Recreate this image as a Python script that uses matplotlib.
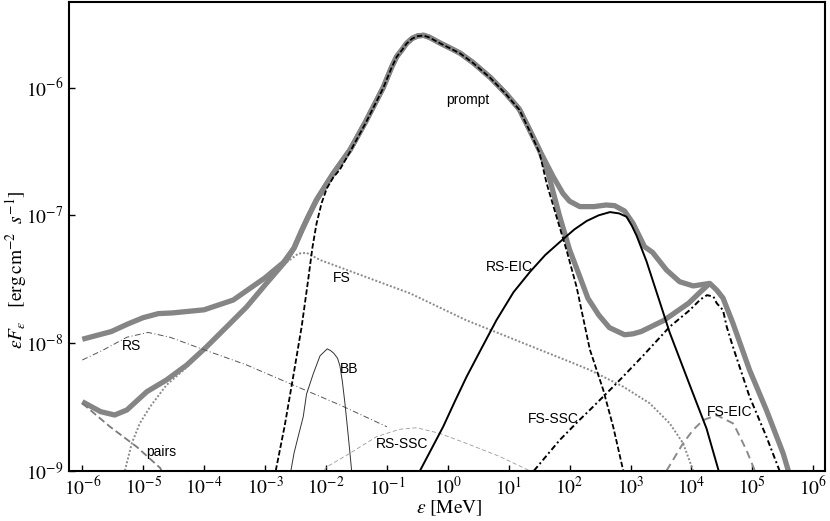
import matplotlib
matplotlib.use("Agg")
import matplotlib.pyplot as plt

plt.rcParams['mathtext.fontset'] = 'stix'
plt.rcParams['font.family'] = ['Liberation Serif', 'DejaVu Serif']

# ---------------- data ----------------
total_a_x = [1e-6, 3e-6, 5.6e-6, 1e-5, 1.78e-5, 3e-5, 1e-4, 3e-4, 1e-3, 2e-3, 3e-3, 4e-3, 5e-3,
             7e-3, 1.3e-2, 2.5e-2, 4.5e-2, 8.7e-2, 0.12, 0.145, 0.18, 0.21, 0.26, 0.32, 0.40,
             0.5, 0.74, 1.1, 1.6, 2.6, 5, 9, 15, 22, 32, 54, 78, 100, 147, 250, 400, 550, 800,
             1100, 1700, 2300, 3900, 6400, 1.07e4, 2e4, 2.6e4, 3.3e4, 4.8e4, 9e4, 1.7e5,
             3.2e5, 3.9e5]
total_a_y = [1.07e-8, 1.23e-8, 1.41e-8, 1.58e-8, 1.70e-8, 1.72e-8, 1.82e-8, 2.17e-8, 3.24e-8,
             4.27e-8, 5.56e-8, 7.6e-8, 9.55e-8, 1.32e-7, 2.11e-7, 3.27e-7, 5.43e-7, 1.0e-6,
             1.45e-6, 1.75e-6, 2.0e-6, 2.22e-6, 2.43e-6, 2.54e-6, 2.57e-6, 2.48e-6, 2.24e-6,
             2.04e-6, 1.86e-6, 1.57e-6, 1.20e-6, 9.0e-7, 6.76e-7, 4.68e-7, 3.24e-7, 2.0e-7,
             1.48e-7, 1.29e-7, 1.17e-7, 1.17e-7, 1.205e-7, 1.19e-7, 1.08e-7, 8.65e-8, 5.68e-8,
             5.13e-8, 3.73e-8, 3.02e-8, 2.8e-8, 2.93e-8, 2.6e-8, 2.25e-8, 1.43e-8, 6.15e-9,
             2.99e-9, 1.37e-9, 1.0e-9]

total_b_x = [1e-6, 2e-6, 3.4e-6, 5.4e-6, 1.15e-5, 2.4e-5, 5.2e-5, 1.1e-4, 2.35e-4, 5e-4, 1.06e-3,
             2.25e-3, 3e-3, 4e-3, 5e-3, 7e-3, 1.3e-2, 2.5e-2, 4.5e-2, 8.7e-2, 0.12, 0.145, 0.18,
             0.21, 0.26, 0.32, 0.40, 0.5, 0.74, 1.1, 1.6, 2.6, 5, 9, 15, 22, 32, 45, 69, 100,
             147, 200, 300, 450, 800, 1100, 1500, 3500, 9000, 1.4e4, 2e4]
total_b_y = [3.47e-9, 2.90e-9, 2.73e-9, 2.99e-9, 4.16e-9, 5.13e-9, 6.73e-9, 9.35e-9, 1.34e-8,
             1.92e-8, 2.94e-8, 4.47e-8, 5.56e-8, 7.6e-8, 9.55e-8, 1.32e-7, 2.11e-7, 3.27e-7,
             5.43e-7, 1.0e-6, 1.45e-6, 1.75e-6, 2.0e-6, 2.22e-6, 2.43e-6, 2.54e-6, 2.57e-6,
             2.48e-6, 2.24e-6, 2.04e-6, 1.86e-6, 1.57e-6, 1.20e-6, 9.0e-7, 6.76e-7, 4.68e-7,
             3.24e-7, 2.09e-7, 9.75e-8, 5.37e-8, 3.31e-8, 2.24e-8, 1.66e-8, 1.32e-8, 1.16e-8,
             1.18e-8, 1.23e-8, 1.50e-8, 2.05e-8, 2.51e-8, 2.93e-8]

prompt_x = [1.5e-3, 2.1e-3, 2.9e-3, 4e-3, 5.1e-3, 6e-3, 7e-3, 8.5e-3, 1.03e-2, 1.32e-2, 1.7e-2,
            2.5e-2, 4.5e-2, 8.7e-2, 0.12, 0.145, 0.18, 0.21, 0.26, 0.32, 0.40, 0.5, 0.74, 1.1,
            1.6, 2.6, 5, 9, 15, 22, 32, 42, 61, 89, 130, 215, 357, 520, 760]
prompt_y = [1e-9, 2.24e-9, 5.45e-9, 1.35e-8, 3.11e-8, 5.6e-8, 8.6e-8, 1.25e-7, 1.62e-7, 1.98e-7,
            2.29e-7, 3.16e-7, 5.3e-7, 9.9e-7, 1.44e-6, 1.74e-6, 1.99e-6, 2.21e-6, 2.42e-6,
            2.53e-6, 2.56e-6, 2.47e-6, 2.23e-6, 2.03e-6, 1.85e-6, 1.56e-6, 1.19e-6, 8.9e-7,
            6.7e-7, 4.6e-7, 3.1e-7, 1.78e-7, 9.75e-8, 5.35e-8, 2.76e-8, 8.9e-9, 4.29e-9,
            2.21e-9, 1e-9]

fs_x = [5e-6, 6.5e-6, 8.8e-6, 1.3e-5, 2.4e-5, 5.2e-5, 1.1e-4, 2.35e-4, 5e-4, 1.06e-3, 2.25e-3,
        3.5e-3, 4.8e-3, 8e-3, 0.24, 2, 100, 215, 760, 2070, 4400, 7300, 1.07e4]
fs_y = [1e-9, 1.64e-9, 2.35e-9, 3.17e-9, 4.68e-9, 6.46e-9, 9.12e-9, 1.32e-8, 1.88e-8, 2.85e-8,
        4.27e-8, 5.01e-8, 5.09e-8, 4.47e-8, 2.45e-8, 1.51e-8, 7.14e-9, 6.15e-9, 4.55e-9,
        3.37e-9, 2.35e-9, 1.64e-9, 1e-9]

rs_x = [1e-6, 2.2e-6, 5.4e-6, 1.2e-5, 2.75e-5, 8.5e-5, 5e-4, 2.9e-3, 1.7e-2, 0.1]
rs_y = [7.36e-9, 8.81e-9, 1.11e-8, 1.21e-8, 1.11e-8, 9.1e-9, 6.73e-9, 4.69e-9, 3.27e-9, 2.21e-9]

pairs_x = [1e-6, 2.85e-6, 7.8e-6, 1.9e-5, 2e-5]
pairs_y = [3.37e-9, 2.21e-9, 1.54e-9, 1.05e-9, 1e-9]

bb_x = [2.66e-3, 3.0e-3, 3.55e-3, 4.24e-3, 4.8e-3, 6.2e-3, 8e-3, 1.05e-2, 1.2e-2, 1.35e-2,
        1.55e-2, 1.7e-2, 1.86e-2, 2.05e-2, 2.25e-2, 2.48e-2, 2.64e-2]
bb_y = [1e-9, 1.38e-9, 1.9e-9, 2.65e-9, 3.98e-9, 5.75e-9, 7.94e-9, 9.0e-9, 8.7e-9, 8.3e-9,
        7.6e-9, 6.6e-9, 5.0e-9, 3.37e-9, 2.19e-9, 1.37e-9, 1e-9]

rs_ssc_x = [9.3e-3, 1.03e-2, 2.48e-2, 6.8e-2, 0.162, 0.31, 0.74, 2.0, 7.2, 22]
rs_ssc_y = [1e-9, 1.07e-9, 1.37e-9, 1.85e-9, 2.11e-9, 2.17e-9, 1.96e-9, 1.64e-9, 1.29e-9, 1e-9]

rs_eic_x = [0.35, 0.84, 1.3, 2.04, 3.5, 6.3, 12, 22.3, 40, 78, 120, 190, 300, 460, 650, 860,
            1050, 1260, 1830, 3030, 4420, 9400, 1.77e4, 2.8e4]
rs_eic_y = [1e-9, 2.21e-9, 3.47e-9, 5.45e-9, 8.9e-9, 1.51e-8, 2.5e-8, 3.6e-8, 4.9e-8,
            6.5e-8, 7.76e-8, 9.02e-8, 1.0e-7, 1.06e-7, 1.035e-7, 9.75e-8, 8.3e-8, 6.92e-8,
            4.37e-8, 2.09e-8, 1.2e-8, 4.68e-9, 2.14e-9, 1e-9]

fs_ssc_x = [26, 69, 147, 215, 590, 1600, 4400, 9400, 1.4e4, 1.8e4, 2.3e4, 2.6e4, 3.3e4, 3.8e4,
            4.8e4, 9e4, 1.7e5, 2.8e5]
fs_ssc_y = [1e-9, 1.74e-9, 2.51e-9, 2.99e-9, 4.83e-9, 7.94e-9, 1.34e-8, 1.81e-8, 2.19e-8,
            2.37e-8, 2.31e-8, 2.05e-8, 1.81e-8, 1.34e-8, 9.35e-9, 3.8e-9, 1.85e-9, 1e-9]

fs_eic_x = [3900, 7300, 1.07e4, 1.56e4, 2.6e4, 4.8e4, 5.5e4, 8e4, 1.1e5]
fs_eic_y = [1e-9, 1.64e-9, 2.09e-9, 2.49e-9, 2.72e-9, 2.35e-9, 2.09e-9, 1.45e-9, 1e-9]

labels = ["prompt", "FS", "RS", "BB", "pairs", "RS-SSC", "RS-EIC", "FS-SSC", "FS-EIC"]
label_x = [2.14, 1.8e-2, 6.5e-6, 2.4e-2, 2.0e-5, 0.179, 10.1, 55, 4.27e4]
label_y = [8.0e-7, 3.24e-8, 9.5e-9, 6.3e-9, 1.39e-9, 1.61e-9, 3.95e-8, 2.53e-9, 2.86e-9]

xticks = [1e-6, 1e-5, 1e-4, 1e-3, 1e-2, 1e-1, 1e0, 1e1, 1e2, 1e3, 1e4, 1e5, 1e6]
xtick_labels = [r'$10^{-6}$', r'$10^{-5}$', r'$10^{-4}$', r'$10^{-3}$', r'$10^{-2}$',
                r'$10^{-1}$', r'$10^{0}$', r'$10^{1}$', r'$10^{2}$', r'$10^{3}$',
                r'$10^{4}$', r'$10^{5}$', r'$10^{6}$']
yticks = [1e-9, 1e-8, 1e-7, 1e-6]
ytick_labels = [r'$10^{-9}$', r'$10^{-8}$', r'$10^{-7}$', r'$10^{-6}$']

# ---------------- figure ----------------
fig = plt.figure(figsize=(8.30, 5.21), dpi=100)
ax = fig.add_axes([69 / 830, 50.3 / 521, 756 / 830, 469 / 521])
ax.set_xscale('log')
ax.set_yscale('log')

gray = '#858585'
ax.plot(total_b_x, total_b_y, color=gray, lw=3.8, solid_capstyle='butt',
        solid_joinstyle='round', zorder=1)
ax.plot(total_a_x, total_a_y, color=gray, lw=3.8, solid_capstyle='butt',
        solid_joinstyle='round', zorder=1)

ax.plot(prompt_x, prompt_y, color='black', lw=1.3, dashes=(3.0, 1.3), zorder=3)
ax.plot(fs_x, fs_y, color='#8a8a8a', lw=1.4, dashes=(1.0, 1.0), zorder=2)
ax.plot(rs_x, rs_y, color='#555555', lw=0.7, dashes=(6, 2.5, 1, 2.5), zorder=2)
ax.plot(pairs_x, pairs_y, color='#7a7a7a', lw=1.3, dashes=(4, 2), zorder=2)
ax.plot(bb_x, bb_y, color='#333333', lw=0.7, zorder=2)
ax.plot(rs_ssc_x, rs_ssc_y, color='#9a9a9a', lw=0.6, dashes=(5, 3), zorder=2)
ax.plot(rs_eic_x, rs_eic_y, color='black', lw=1.4, zorder=3)
ax.plot(fs_ssc_x, fs_ssc_y, color='black', lw=1.4, dashes=(3, 1.5, 1, 1.5), zorder=3)
ax.plot(fs_eic_x, fs_eic_y, color='#8a8a8a', lw=1.4, dashes=(4, 2.5), zorder=2)

for t, x, y in zip(labels, label_x, label_y):
    ax.text(x, y, t, ha='center', va='center', fontsize=10,
            family=['Liberation Sans', 'DejaVu Sans'], zorder=5)

ax.set_xlim(6.05e-7, 1.56e6)
ax.set_ylim(1e-9, 4.71e-6)
ax.set_xticks(xticks)
ax.set_xticklabels(xtick_labels)
ax.set_yticks(yticks)
ax.set_yticklabels(ytick_labels)
ax.minorticks_off()
ax.tick_params(axis='both', which='major', direction='in', length=4, width=1,
               labelsize=14, top=False, right=False, pad=4)
for s in ax.spines.values():
    s.set_linewidth(1.5)

fig.text(16 / 830, 1 - 270 / 521,
         r'$\varepsilon F_\varepsilon\ \ \ [\mathrm{erg\,cm}^{-2}\ \ s^{-1}]$',
         rotation=90, ha='center', va='center', fontsize=14)
fig.text(449 / 830, 1 - 508 / 521, r'$\varepsilon\ [\mathrm{MeV}]$',
         ha='center', va='center', fontsize=14)

fig.savefig('out.png', dpi=100)
